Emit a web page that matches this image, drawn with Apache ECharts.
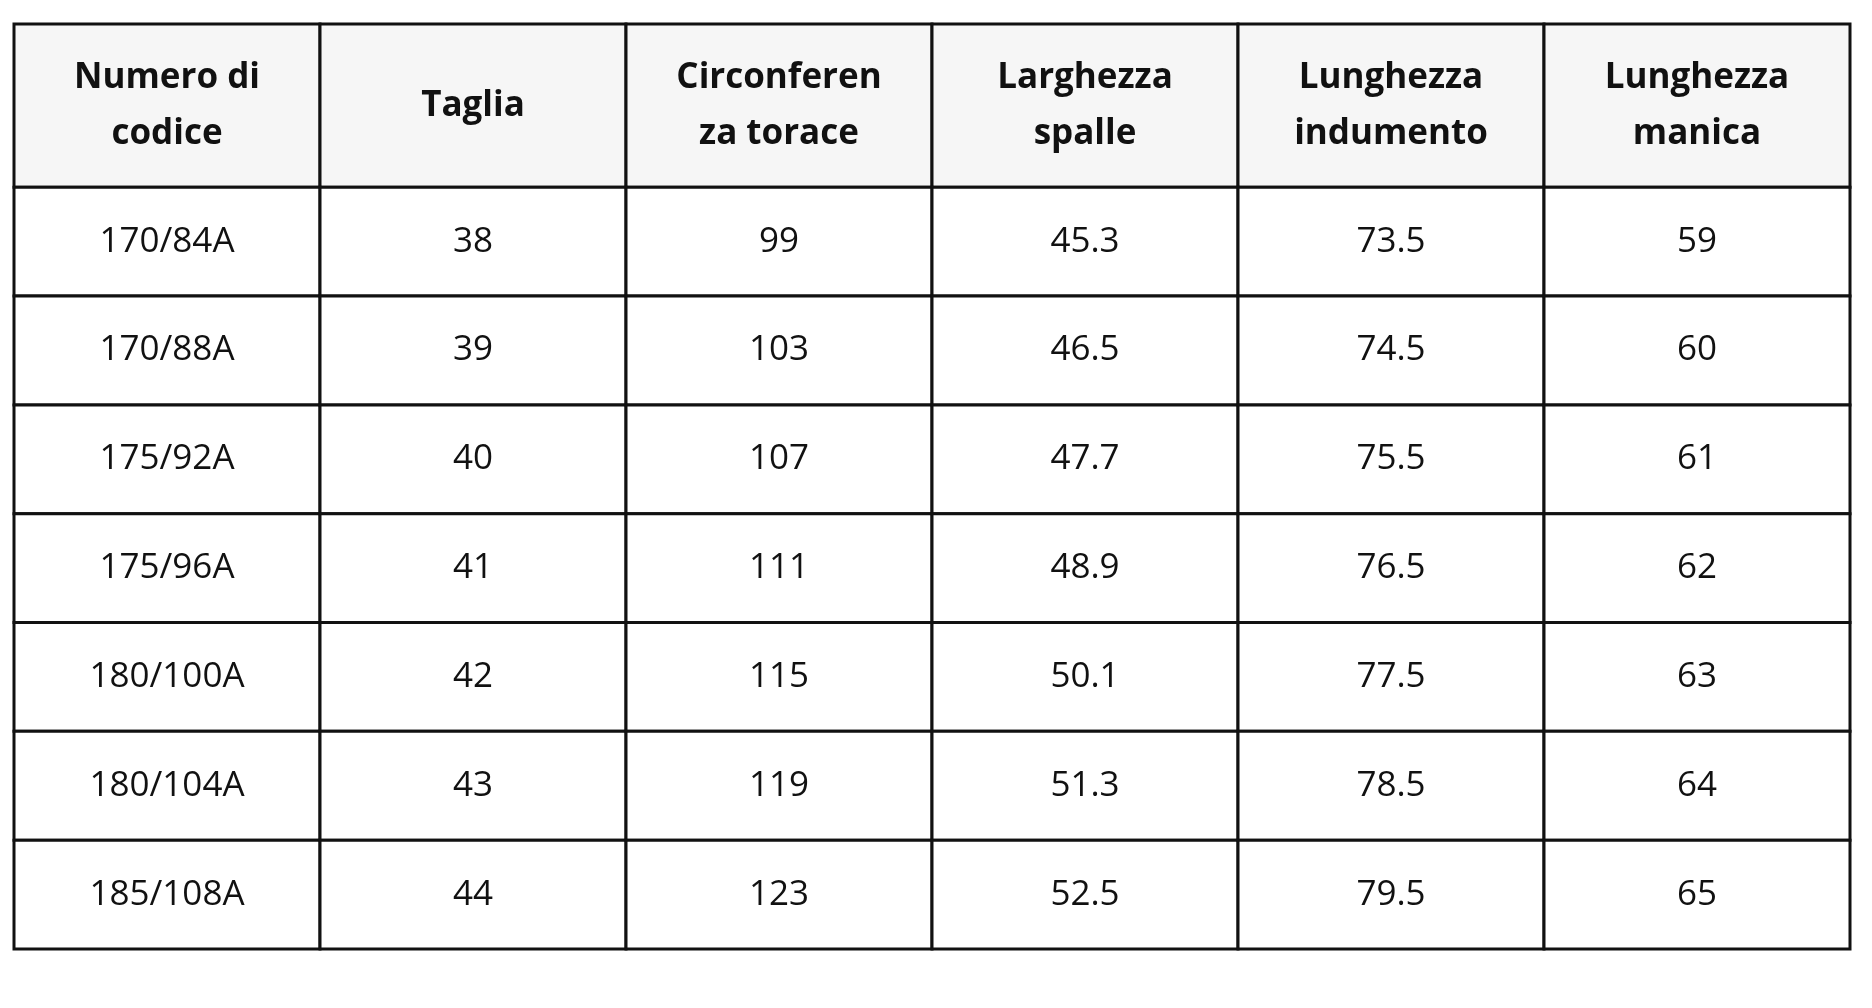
<!DOCTYPE html>
<html><head><meta charset="utf-8">
<script src="https://cdn.jsdelivr.net/npm/echarts@6/dist/echarts.min.js"></script>
<style>html,body{margin:0;background:#fff}#c{width:1872px;height:1008px}</style>
</head><body><div id="c"></div>
<script>
const headers = ['Numero di\ncodice','Taglia','Circonferen\nza torace','Larghezza\nspalle','Lunghezza\nindumento','Lunghezza\nmanica'];
const codes = ['170/84A','170/88A','175/92A','175/96A','180/100A','180/104A','185/108A'];
const sizes = ['38','39','40','41','42','43','44'];
const chest = ['99','103','107','111','115','119','123'];
const shoulder = ['45.3','46.5','47.7','48.9','50.1','51.3','52.5'];
const garmentLength = ['73.5','74.5','75.5','76.5','77.5','78.5','79.5'];
const sleeve = ['59','60','61','62','63','64','65'];

const HEADER_H = 1.5;
const columns = [codes, sizes, chest, shoulder, garmentLength, sleeve];
const data = [];
headers.forEach((h, c) => data.push([c, 0, HEADER_H, h, 1]));
columns.forEach((col, c) => col.forEach((v, r) => data.push([c, HEADER_H + r, HEADER_H + r + 1, v, 0])));

const chart = echarts.init(document.getElementById('c'));
chart.setOption({
  animation: false,
  grid: {left: 14, right: 22, top: 24, bottom: 59},
  xAxis: {type: 'value', min: 0, max: 6, show: false},
  yAxis: {type: 'value', min: 0, max: HEADER_H + 7, inverse: true, show: false},
  series: [{
    type: 'custom',
    data: data,
    renderItem: function (params, api) {
      const p0 = api.coord([api.value(0), api.value(1)]);
      const p1 = api.coord([api.value(0) + 1, api.value(2)]);
      const isH = api.value(4) === 1;
      const d = data[params.dataIndex];
      return {
        type: 'group',
        children: [{
          type: 'rect',
          shape: {x: p0[0], y: p0[1], width: p1[0] - p0[0], height: p1[1] - p0[1]},
          style: {fill: isH ? '#f6f6f6' : '#ffffff', stroke: '#111', lineWidth: 3}
        }, {
          type: 'text',
          style: {
            text: d[3], x: (p0[0] + p1[0]) / 2, y: (p0[1] + p1[1]) / 2,
            align: 'center', verticalAlign: 'middle',
            fontFamily: 'Open Sans', fontSize: 35, fontWeight: isH ? 'bold' : 'normal',
            lineHeight: 56, fill: '#111'
          }
        }]
      };
    }
  }]
});
</script></body></html>
